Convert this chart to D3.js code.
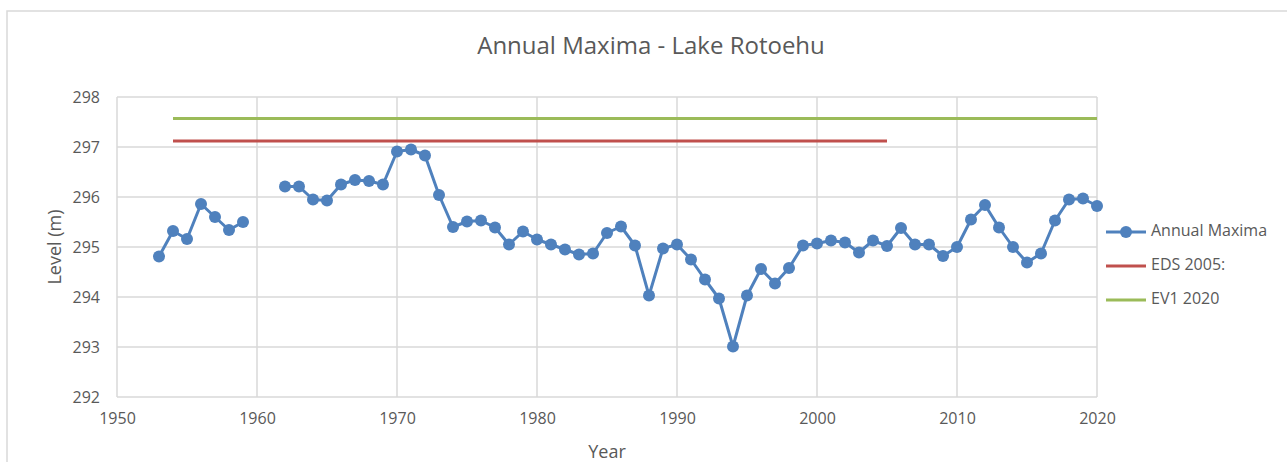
<!DOCTYPE html>
<html>
<head>
<meta charset="utf-8">
<script src="https://cdn.jsdelivr.net/npm/d3@7"></script>
<style>
  html, body { margin: 0; padding: 0; background: #fff; }
  text { font-family: "Open Sans", sans-serif; fill: #595959; }
</style>
</head>
<body>
<svg id="chart" width="1287" height="462"></svg>
<script>
const years = [1953,1954,1955,1956,1957,1958,1959,
  1962,1963,1964,1965,1966,1967,1968,1969,1970,1971,1972,1973,1974,
  1975,1976,1977,1978,1979,1980,1981,1982,1983,1984,1985,1986,1987,1988,1989,
  1990,1991,1992,1993,1994,1995,1996,1997,1998,1999,2000,2001,2002,2003,2004,
  2005,2006,2007,2008,2009,2010,2011,2012,2013,2014,2015,2016,2017,2018,2019,2020];
const maxima = [294.81,295.32,295.16,295.86,295.60,295.34,295.50,
  296.21,296.21,295.95,295.93,296.25,296.34,296.32,296.25,296.91,296.95,296.83,296.04,295.40,
  295.51,295.53,295.39,295.05,295.31,295.15,295.05,294.95,294.85,294.87,295.28,295.41,295.03,294.03,294.97,
  295.05,294.75,294.35,293.97,293.01,294.03,294.56,294.27,294.58,295.03,295.07,295.13,295.09,294.89,295.13,
  295.02,295.38,295.05,295.05,294.82,295.00,295.55,295.84,295.39,295.00,294.69,294.87,295.53,295.95,295.97,295.82];
const edsYears = [1954, 2005];
const edsValues = [297.12, 297.12];
const ev1Years = [1954, 2020];
const ev1Values = [297.57, 297.57];
const xTicks = [1950,1960,1970,1980,1990,2000,2010,2020];
const yTicks = [292,293,294,295,296,297,298];
const seriesNames = ["Annual Maxima", "EDS 2005:", "EV1 2020"];
const colors = ["#4F81BD", "#C0504D", "#9BBB59"];

(function () {
const svg = d3.select("#chart");
const pLeft = 117, pRight = 1097, pTop = 97, pBottom = 397;
const x = d3.scaleLinear().domain([1950, 2020]).range([pLeft, pRight]);
const y = d3.scaleLinear().domain([292, 298]).range([pBottom, pTop]);

// outer chart border
svg.append("rect").attr("x", 7).attr("y", 11).attr("width", 1290).attr("height", 470)
  .attr("fill", "none").attr("stroke", "#D9D9D9").attr("stroke-width", 1.5);

// title
svg.append("text").attr("x", 651).attr("y", 54).attr("text-anchor", "middle")
  .style("font-size", "24px").text("Annual Maxima - Lake Rotoehu");

// gridlines
const grid = svg.append("g");
grid.selectAll("line.h").data(yTicks).enter().append("line")
  .attr("x1", pLeft).attr("x2", pRight).attr("y1", d => y(d)).attr("y2", d => y(d))
  .attr("stroke", "#D9D9D9").attr("stroke-width", 1.5);
grid.selectAll("line.v").data(xTicks).enter().append("line")
  .attr("y1", pTop).attr("y2", pBottom).attr("x1", d => x(d)).attr("x2", d => x(d))
  .attr("stroke", "#D9D9D9").attr("stroke-width", 1.5);

// axes (labels only)
const yAxis = svg.append("g").attr("transform", `translate(${pLeft},0)`)
  .call(d3.axisLeft(y).tickValues(yTicks).tickSize(0).tickPadding(17).tickFormat(d3.format("d")));
yAxis.select(".domain").remove();
yAxis.selectAll("text").style("font-size", "16px").attr("fill", "#595959");

const xAxis = svg.append("g").attr("transform", `translate(0,${pBottom})`)
  .call(d3.axisBottom(x).tickValues(xTicks).tickSize(0).tickPadding(16).tickFormat(d3.format("d")));
xAxis.select(".domain").remove();
xAxis.selectAll("text").style("font-size", "16px").attr("fill", "#595959");

// axis titles
svg.append("text").attr("transform", "translate(61,247) rotate(-90)")
  .attr("text-anchor", "middle")
  .style("font-size", "18px").text("Level (m)");
svg.append("text").attr("x", 607).attr("y", 458).attr("text-anchor", "middle")
  .style("font-size", "18px").text("Year");

// reference lines
const line = d3.line().x(d => x(d[0])).y(d => y(d[1]));
svg.append("path").datum(ev1Years.map((d, i) => [d, ev1Values[i]]))
  .attr("d", line).attr("fill", "none").attr("stroke", colors[2]).attr("stroke-width", 3);
svg.append("path").datum(edsYears.map((d, i) => [d, edsValues[i]]))
  .attr("d", line).attr("fill", "none").attr("stroke", colors[1]).attr("stroke-width", 3);

// annual maxima series, with gap 1960-1961
const pts = years.map((d, i) => [d, maxima[i]]);
const seg1 = pts.filter(d => d[0] < 1960);
const seg2 = pts.filter(d => d[0] > 1961);
[seg1, seg2].forEach(seg => {
  svg.append("path").datum(seg).attr("d", line).attr("fill", "none")
    .attr("stroke", colors[0]).attr("stroke-width", 3).attr("stroke-linejoin", "round");
});
svg.append("g").selectAll("circle").data(pts).enter().append("circle")
  .attr("cx", d => x(d[0])).attr("cy", d => y(d[1])).attr("r", 6).attr("fill", colors[0]);

// legend
const legend = svg.append("g");
const legY = [232, 266, 300];
seriesNames.forEach((name, i) => {
  const g = legend.append("g").attr("transform", `translate(0,${legY[i]})`);
  g.append("line").attr("x1", 1106).attr("x2", 1146).attr("y1", 0).attr("y2", 0)
    .attr("stroke", colors[i]).attr("stroke-width", 3);
  if (i === 0) g.append("circle").attr("cx", 1126).attr("cy", 0).attr("r", 6).attr("fill", colors[0]);
  g.append("text").attr("x", 1151).attr("y", 0).attr("dominant-baseline", "middle")
    .style("font-size", "16px").text(name);
});
})();
</script>
</body>
</html>
